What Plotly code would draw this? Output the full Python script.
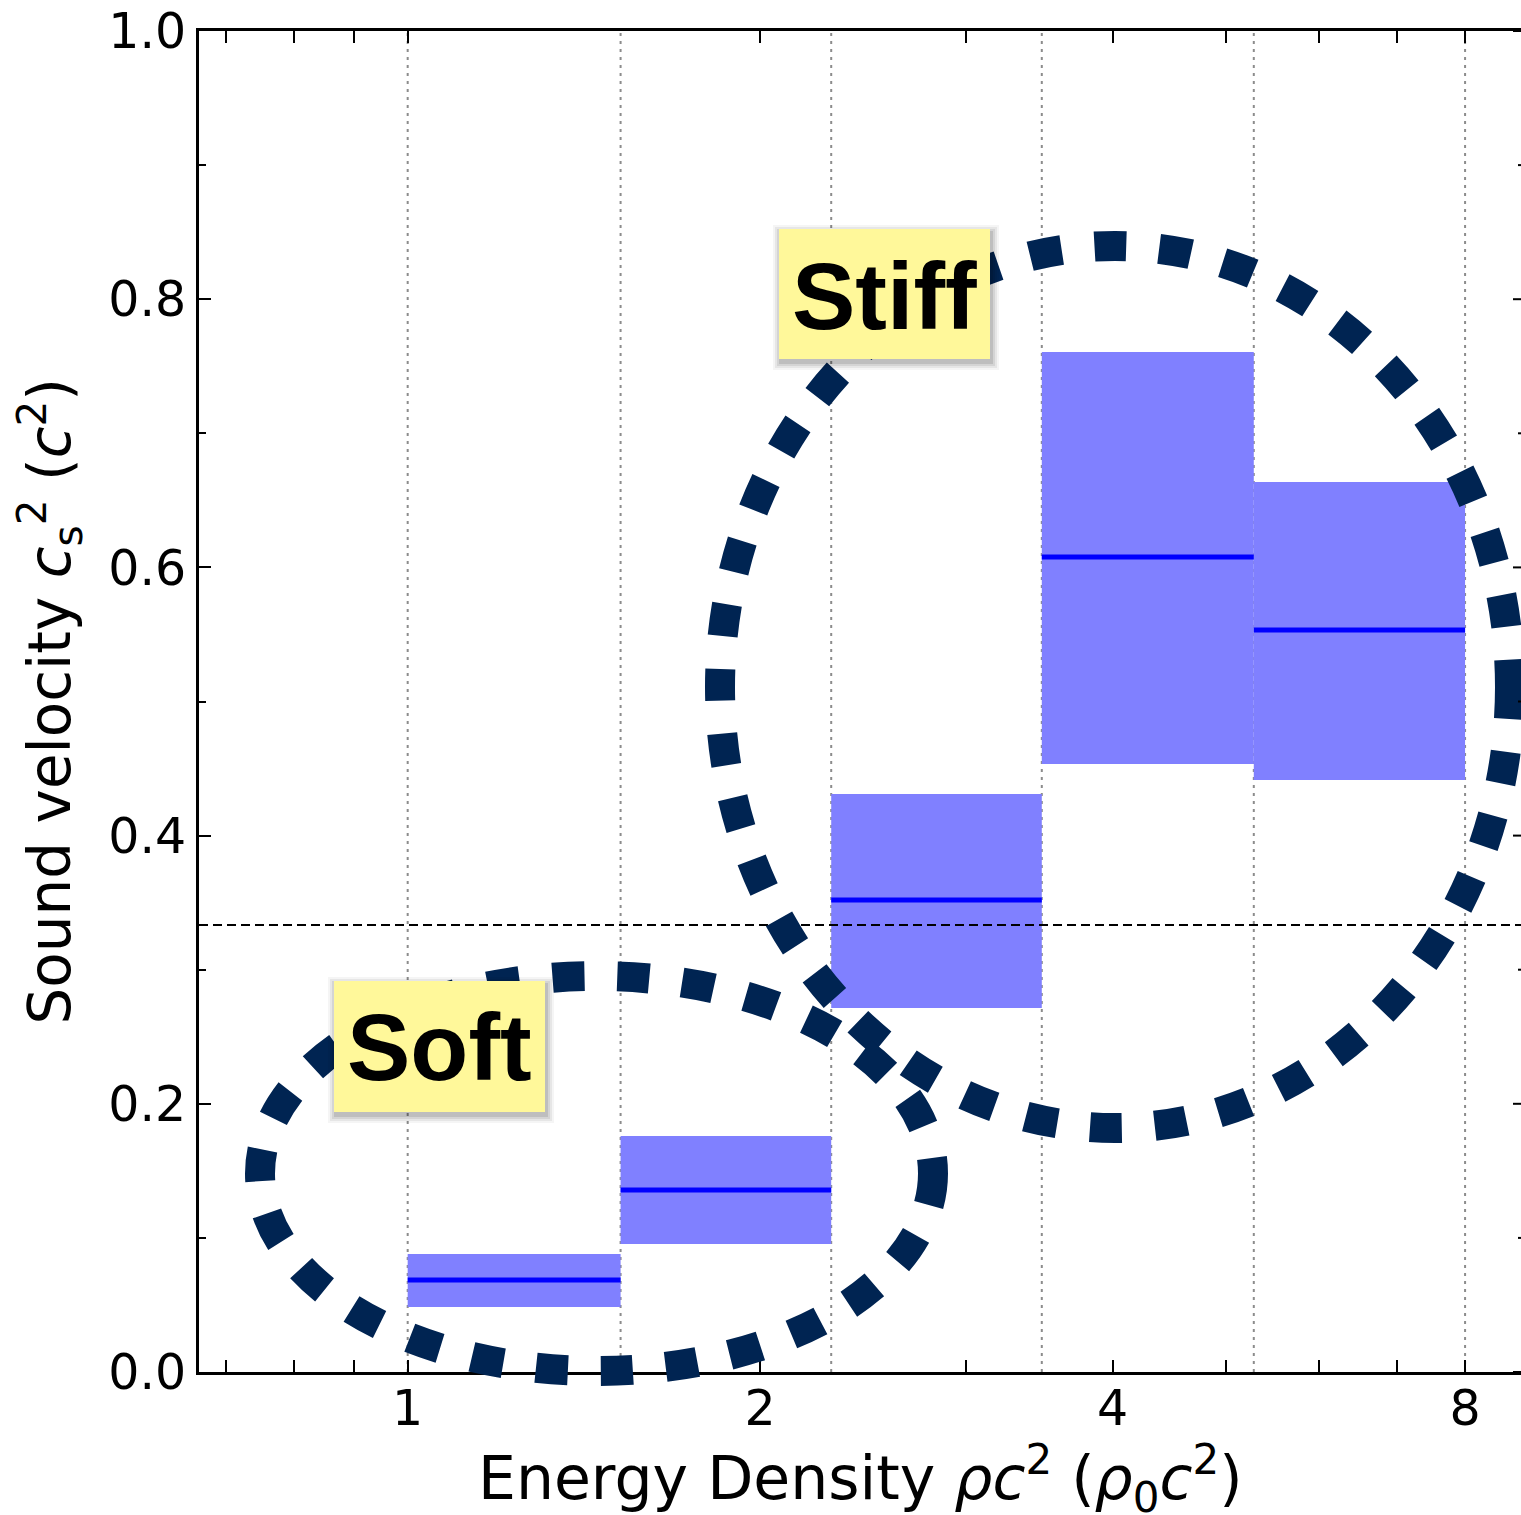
import math
import plotly.graph_objects as go

# ---- data -------------------------------------------------------------
# energy-density bin edges (units of rho_0 c^2)
bin_edges = [1.0, 1.52, 2.30, 3.48, 5.28, 8.0]
# sound velocity squared per bin: lower / upper band and median
cs2_lower = [0.0485, 0.0955, 0.2714, 0.4534, 0.4415]
cs2_upper = [0.0880, 0.1760, 0.4310, 0.7606, 0.6637]
cs2_median = [0.0686, 0.1357, 0.3520, 0.6078, 0.5533]
# conformal limit c_s^2 = 1/3
conformal = 1.0 / 3.0

x_tickvals = [1, 2, 4, 8]
x_ticktext = ["1", "2", "4", "8"]
x_minorvals = [0.7, 0.8, 0.9, 3, 5, 6, 7]
y_tickvals = [0.0, 0.2, 0.4, 0.6, 0.8, 1.0]
y_ticktext = ["0.0", "0.2", "0.4", "0.6", "0.8", "1.0"]
y_minorvals = [0.1, 0.3, 0.5, 0.7, 0.9]

# ---- figure geometry --------------------------------------------------
W, H = 1521, 1515
L, R, T, B = 199, 0, 31, 143
PW, PH = W - L - R, H - T - B
x_range = [math.log10(0.6634), math.log10(8.93)]


def px(xp):
    """pixel column -> paper x"""
    return (xp - L) / PW


def py(yp):
    """pixel row -> paper y"""
    return (H - B - yp) / PH


FONT = "DejaVu Sans"
BOX_FILL = "#8080FF"
MEDIAN = "#0000FF"
NAVY = "#002452"
YELLOW = "#FFF89A"

fig = go.Figure()

# bin boundaries as dotted guides
for e in bin_edges:
    fig.add_trace(go.Scatter(
        x=[e, e], y=[0, 1], mode="lines",
        line=dict(color="#8c8c8c", width=2, dash="3px,5px"),
        hoverinfo="skip", showlegend=False))

# uncertainty bands
for lo, hi, a, b in zip(bin_edges[:-1], bin_edges[1:], cs2_lower, cs2_upper):
    fig.add_trace(go.Scatter(
        x=[lo, hi, hi, lo, lo], y=[a, a, b, b, a],
        mode="lines", fill="toself", fillcolor=BOX_FILL,
        line=dict(width=0), hoverinfo="skip", showlegend=False))

# medians
for lo, hi, m in zip(bin_edges[:-1], bin_edges[1:], cs2_median):
    fig.add_trace(go.Scatter(
        x=[lo, hi], y=[m, m], mode="lines",
        line=dict(color=MEDIAN, width=5),
        hoverinfo="skip", showlegend=False))

# conformal limit
fig.add_trace(go.Scatter(
    x=[10 ** x_range[0], 10 ** x_range[1]], y=[conformal, conformal],
    mode="lines", line=dict(color="black", width=2, dash="9px,5px"),
    hoverinfo="skip", showlegend=False))

shapes = []

# highlight rings
ring = dict(type="circle", xref="paper", yref="paper",
            line=dict(color=NAVY, width=30, dash="32px,33px"),
            fillcolor="rgba(0,0,0,0)", layer="above")
shapes.append(dict(ring, x0=px(720), x1=px(1510), y0=py(1128), y1=py(246)))
shapes.append(dict(ring, x0=px(260), x1=px(933), y0=py(1371), y1=py(976)))

# yellow label boxes with a soft drop shadow
label_boxes = [(779, 990, 229, 359), (334, 545, 981, 1112)]
for x0, x1, y0, y1 in label_boxes:
    for k, a in [(9, 0.04), (7, 0.06), (5, 0.08), (3, 0.10)]:
        shapes.append(dict(type="rect", xref="paper", yref="paper",
                           x0=px(x0 - k + 3), x1=px(x1 + k),
                           y0=py(y1 + k + 2), y1=py(y0 - k + 5),
                           line=dict(width=0),
                           fillcolor=f"rgba(0,0,0,{a})", layer="above"))
    shapes.append(dict(type="rect", xref="paper", yref="paper",
                       x0=px(x0), x1=px(x1), y0=py(y1), y1=py(y0),
                       line=dict(width=0), fillcolor=YELLOW, layer="above"))

# right-hand y ticks (spine lies just past the frame)
for v in y_tickvals + y_minorvals:
    ln = 8 if v in y_tickvals else 3
    shapes.append(dict(type="line", xref="paper", yref="y",
                       xsizemode="pixel", xanchor=1, x0=-ln, x1=0,
                       y0=v, y1=v, line=dict(color="black", width=2)))

annotations = [
    dict(text="<b>Stiff</b>", x=px(884.5), y=py(296), xref="paper", yref="paper",
         xanchor="center", yanchor="middle", showarrow=False,
         font=dict(family="Liberation Sans", size=95, color="black")),
    dict(text="<b>Soft</b>", x=px(439.5), y=py(1047), xref="paper", yref="paper",
         xanchor="center", yanchor="middle", showarrow=False,
         font=dict(family="Liberation Sans", size=95, color="black")),
    dict(text="Energy Density <i>ρc</i><sup>2</sup> (<i>ρ</i><sub>0</sub><i>c</i><sup>2</sup>)",
         x=0.5, y=0, xref="paper", yref="paper", xanchor="center", yanchor="middle",
         yshift=-106, showarrow=False, font=dict(family=FONT, size=60, color="black")),
    dict(text="Sound velocity <i>c</i><sub>s</sub><sup>2</sup> (<i>c</i><sup>2</sup>)",
         x=0, y=0.5, xref="paper", yref="paper", xanchor="center", yanchor="middle",
         xshift=-149, textangle=-90, showarrow=False,
         font=dict(family=FONT, size=58, color="black")),
]

fig.update_layout(
    width=W, height=H,
    margin=dict(l=L, r=R, t=T, b=B, pad=0),
    paper_bgcolor="white", plot_bgcolor="white",
    showlegend=False,
    shapes=shapes, annotations=annotations,
    xaxis=dict(
        type="log", range=x_range, showgrid=False, zeroline=False,
        tickmode="array", tickvals=x_tickvals, ticktext=x_ticktext,
        ticks="inside", ticklen=12, tickwidth=2, tickcolor="black",
        ticklabelstandoff=-9,
        showline=True, linewidth=3, linecolor="black", mirror="ticks",
        tickfont=dict(family=FONT, size=49, color="black"),
        minor=dict(tickmode="array", tickvals=x_minorvals, ticks="inside",
                   ticklen=12, tickwidth=2, tickcolor="black", showgrid=False),
    ),
    yaxis=dict(
        range=[0, 1], showgrid=False, zeroline=False,
        tickmode="array", tickvals=y_tickvals, ticktext=y_ticktext,
        ticks="inside", ticklen=12, tickwidth=2, tickcolor="black",
        showline=True, linewidth=3, linecolor="black",
        tickfont=dict(family=FONT, size=49, color="black"),
        minor=dict(tickmode="array", tickvals=y_minorvals, ticks="inside",
                   ticklen=7, tickwidth=2, tickcolor="black", showgrid=False),
    ),
)

fig.write_html("out.html")
